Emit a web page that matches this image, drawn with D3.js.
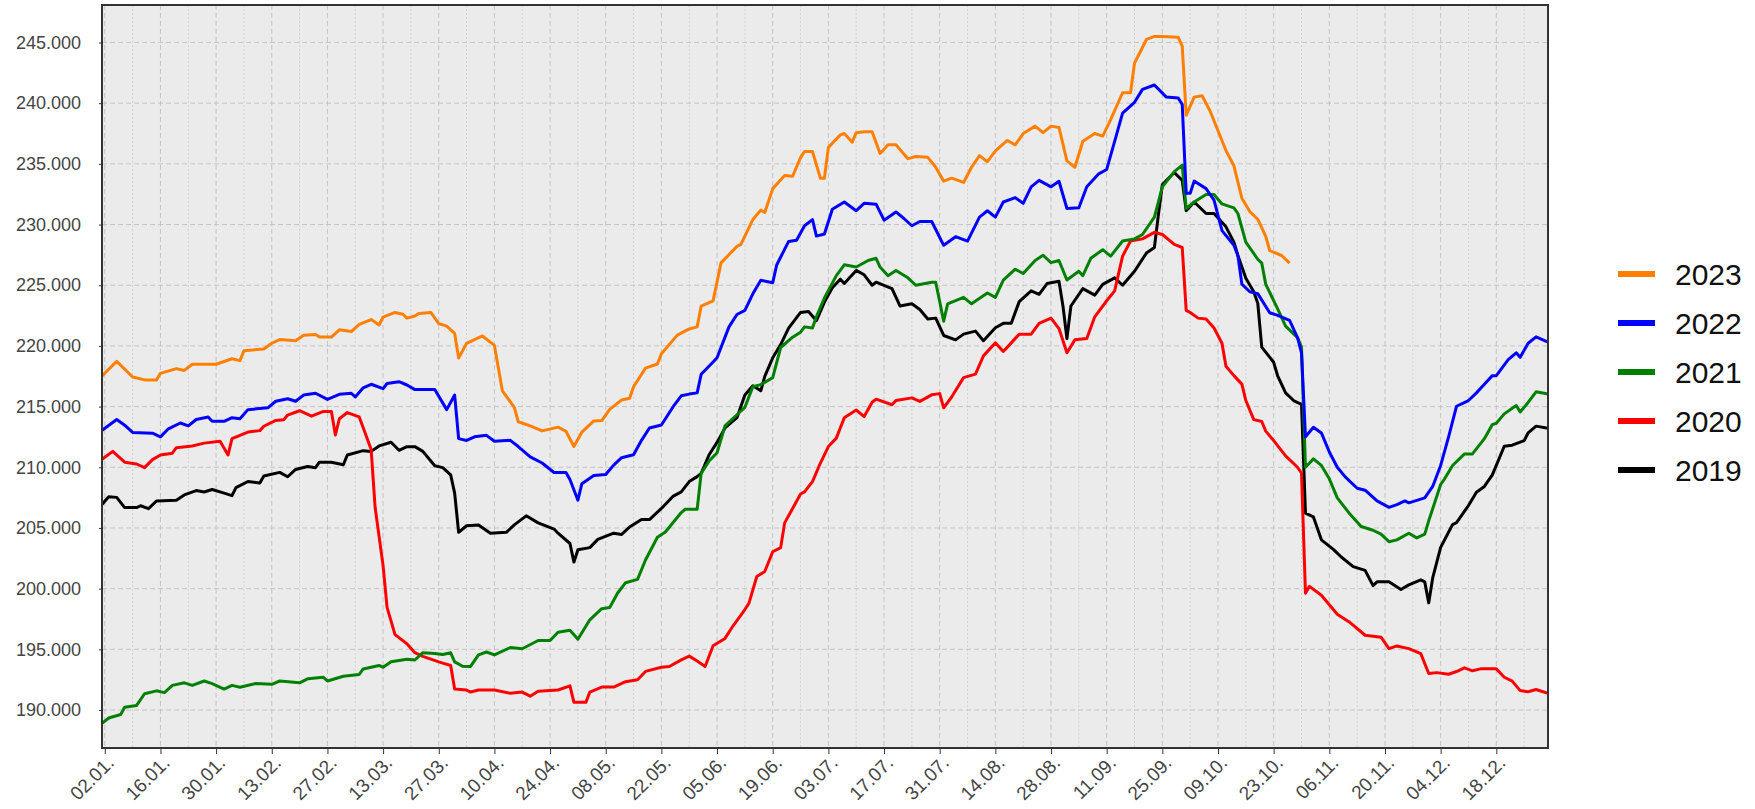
<!DOCTYPE html>
<html lang="de">
<head>
<meta charset="UTF-8">
<title>Jahresvergleich 2019 - 2023</title>
<script src="https://d3js.org/d3.v7.min.js"></script>
<style>
  html, body {margin: 0; background: #fff; overflow: hidden}
  svg text {font-family: Arial, "Liberation Sans", sans-serif;}
</style>
</head>
<body>
<svg id="chart" width="1755" height="809"></svg>
<script>
// x axis labels, one every 14 days
const tickLabels = ["02.01.", "16.01.", "30.01.", "13.02.", "27.02.", "13.03.", "27.03.", "10.04.", "24.04.",
  "08.05.", "22.05.", "05.06.", "19.06.", "03.07.", "17.07.", "31.07.", "14.08.", "28.08.", "11.09.",
  "25.09.", "09.10.", "23.10.", "06.11.", "20.11.", "04.12.", "18.12."];
const yTicks = [190000, 195000, 200000, 205000, 210000, 215000, 220000, 225000, 230000, 235000, 240000, 245000];
const years = ["2023", "2022", "2021", "2020", "2019"];
const colors = ["#ff8000", "#0000ff", "#008000", "#ff0000", "#000000"];

// [day of year (0 = 01.01.), value]
const s2023 = [[0,217440],[4,218730],[8,217440],[11,217200],[14,217200],[15,217740],[19,218130],[21,217980],[23,218490],[29,218490],
  [33,218940],[35,218790],[36,219600],[41,219750],[43,220220],[45,220520],[49,220430],[51,220880],[54,220940],[55,220730],
  [58,220730],[60,221330],[63,221180],[65,221780],[68,222170],[70,221720],[71,222380],[74,222760],[76,222610],[77,222290],
  [79,222460],[80,222670],[83,222760],[85,221840],[87,221630],[89,221030],[90,219000],[92,220210],[96,220820],[99,220040],
  [101,216300],[104,214940],[105,213750],[108,213410],[111,213000],[115,213310],[117,212970],[119,211710],[121,212900],[124,213820],
  [126,213850],[128,214770],[131,215550],[133,215690],[134,216640],[137,218170],[140,218510],[141,219360],[145,220890],[148,221400],
  [150,221570],[151,223270],[154,223710],[156,226840],[160,228200],[161,228370],[164,230410],[166,231190],[167,230990],[169,232960],
  [172,234050],[174,233980],[176,235510],[177,236020],[179,236020],[181,233810],[182,233810],[183,236360],[186,237390],[187,237500],
  [189,236790],[190,237570],[192,237640],[194,237640],[196,235860],[198,236570],[200,236570],[203,235430],[205,235610],[208,235540],
  [210,234720],[212,233570],[214,233820],[217,233470],[219,234720],[221,235680],[223,235180],[225,236070],[228,236930],[230,236570],
  [232,237500],[235,238110],[237,237570],[239,238110],[241,238000],[243,235250],[245,234720],[247,236860],[250,237500],[252,237290],
  [254,238640],[257,240860],[259,240860],[260,243290],[263,245250],[265,245500],[267,245500],[271,245430],[272,244710],[273,239000],
  [275,240500],[277,240610],[279,239360],[283,236100],[285,234840],[287,232170],[289,231070],[291,230440],[293,229020],[294,227860],
  [297,227450],[299,226820]];

const s2022 = [[0,212960],[4,213940],[6,213470],[8,212870],[13,212810],[15,212510],[17,213170],[20,213650],[22,213410],[24,213940],
  [27,214150],[28,213790],[31,213790],[33,214090],[35,214000],[37,214750],[42,214900],[44,215440],[47,215650],[49,215440],
  [51,215950],[54,216100],[57,215590],[60,216010],[63,216100],[64,215800],[66,216550],[68,216840],[71,216480],[72,216900],
  [75,217050],[77,216780],[79,216400],[84,216400],[87,214750],[89,215950],[90,212360],[92,212210],[94,212510],[97,212630],
  [99,212150],[103,212220],[105,211710],[108,210860],[111,210350],[114,209570],[117,209570],[118,208990],[120,207290],[121,208650],
  [124,209330],[127,209400],[129,210180],[131,210790],[134,211030],[136,212220],[138,213240],[141,213480],[144,215010],[146,215890],
  [148,216030],[150,216130],[151,217660],[154,218680],[155,219020],[158,221570],[160,222590],[162,222930],[164,224290],[166,225410],
  [169,225210],[170,226670],[173,228610],[175,228710],[177,229900],[179,230410],[180,229050],[182,229220],[184,231260],[187,231860],
  [190,231140],[192,231750],[195,231680],[197,230360],[200,231040],[202,230500],[204,229900],[206,230250],[209,230250],[212,228290],
  [215,229000],[218,228640],[221,230610],[223,231140],[225,230610],[227,231860],[230,232220],[232,231750],[234,233110],[236,233640],
  [239,233110],[241,233570],[243,231320],[246,231390],[248,233110],[251,234180],[253,234540],[255,236860],[257,239180],[260,240070],
  [262,241140],[265,241500],[268,240500],[271,240430],[272,239890],[273,232570],[274,232570],[275,233580],[278,232960],[280,232010],
  [282,229500],[285,228300],[286,227450],[287,225090],[289,224460],[291,224310],[294,222730],[296,222510],[299,222110],[301,220690],
  [302,219430],[303,212510],[305,213300],[307,212830],[309,211260],[311,210000],[313,209210],[316,208270],[318,208110],[321,207230],
  [324,206700],[326,206920],[328,207230],[329,207070],[333,207480],[335,208420],[337,210150],[339,212510],[341,215030],[344,215500],
  [346,216130],[348,216850],[350,217550],[351,217550],[354,218870],[356,219430],[357,219060],[359,220220],[361,220750],[364,220310]];

const s2021 = [[0,188830],[2,189340],[5,189630],[6,190230],[9,190380],[11,191340],[14,191580],[16,191430],[18,192030],[21,192240],
  [23,192030],[26,192390],[28,192180],[31,191730],[33,192030],[35,191880],[39,192180],[43,192120],[45,192390],[50,192240],
  [52,192570],[56,192690],[57,192390],[61,192780],[65,192930],[66,193380],[70,193670],[71,193520],[73,193970],[77,194180],
  [79,194120],[81,194720],[84,194660],[86,194570],[88,194720],[89,193970],[91,193610],[93,193590],[95,194540],[97,194780],
  [99,194540],[103,195150],[106,195050],[110,195730],[113,195730],[115,196410],[118,196580],[120,195830],[123,197430],[126,198350],
  [128,198450],[130,199640],[132,200490],[135,200760],[137,202360],[140,204230],[142,204670],[146,206270],[147,206540],[150,206540],
  [151,209500],[153,210520],[155,211200],[157,213410],[160,214330],[162,214940],[164,216640],[166,216810],[169,217390],[171,219870],
  [174,220720],[176,221130],[177,221570],[179,221470],[180,222420],[182,223950],[185,225790],[187,226680],[190,226500],[193,227040],
  [195,227220],[196,226500],[198,225790],[200,226220],[203,225610],[205,225000],[209,225250],[210,225250],[212,222040],[213,223470],
  [217,224000],[219,223470],[223,224360],[225,224000],[227,225430],[230,226320],[232,225970],[235,227040],[237,227470],[239,226860],
  [241,227040],[243,225430],[246,226150],[247,225790],[249,227220],[252,227930],[254,227400],[257,228640],[260,228820],[262,229180],
  [265,230610],[267,233110],[270,234360],[272,234890],[273,231320],[275,231860],[278,232480],[280,232480],[282,231700],[285,231380],
  [286,230910],[288,228550],[291,227140],[292,226820],[293,225090],[296,223050],[298,221630],[301,220690],[302,219900],[303,210000],
  [305,210690],[307,210150],[309,209050],[311,207480],[314,206220],[317,205120],[320,204810],[322,204490],[324,203870],[326,204020],
  [329,204560],[331,204180],[333,204490],[334,205590],[337,208580],[338,209050],[340,210150],[343,211100],[345,211100],[348,212360],
  [350,213520],[351,213630],[353,214400],[356,215090],[357,214560],[359,215340],[361,216220],[364,216030]];

const s2020 = [[0,210570],[3,211310],[6,210420],[9,210270],[11,209970],[13,210630],[15,211010],[18,211160],[19,211610],[23,211760],
  [26,211990],[30,212150],[32,211010],[33,212360],[37,212900],[40,213020],[41,213380],[44,213860],[46,213920],[47,214300],
  [50,214660],[53,214210],[56,214600],[58,214600],[59,212660],[60,214000],[62,214510],[65,214150],[66,213260],[68,211460],
  [69,206680],[71,201900],[72,198460],[74,196210],[77,195460],[79,194720],[81,194420],[85,193970],[88,193670],[89,191730],
  [92,191640],[93,191480],[95,191650],[99,191650],[103,191380],[106,191480],[108,191140],[110,191550],[115,191650],[118,191990],
  [119,190630],[122,190630],[123,191480],[126,191890],[129,191890],[132,192330],[135,192500],[137,193180],[141,193520],[143,193590],
  [146,194130],[148,194440],[150,194030],[152,193590],[154,195290],[157,195900],[159,196920],[162,198280],[163,198790],[165,201000],
  [167,201410],[169,203040],[171,203380],[172,205420],[174,206610],[176,207800],[177,207970],[179,208820],[181,210350],[183,211710],
  [185,212400],[187,214080],[190,214720],[192,214180],[194,215360],[195,215610],[199,215150],[200,215500],[204,215720],[206,215430],
  [209,215970],[211,216070],[212,214900],[214,215790],[217,217390],[220,217680],[222,219180],[225,220250],[227,219540],[229,220250],
  [231,220970],[234,220970],[236,221860],[239,222290],[241,221430],[243,219430],[245,220500],[248,220610],[250,222400],[253,223720],
  [255,224540],[257,227400],[259,228640],[262,228820],[265,229360],[267,229180],[270,228360],[272,228110],[273,222930],[274,222750],
  [276,222290],[278,222220],[280,221480],[282,220220],[283,218330],[285,217550],[287,216850],[288,215500],[290,213930],[292,213770],
  [293,212980],[295,212200],[298,210940],[301,210000],[302,209530],[303,199620],[304,200190],[307,199460],[309,198680],[311,197890],
  [314,197260],[318,196160],[322,196000],[324,195060],[326,195280],[329,195060],[332,194650],[334,193010],[336,193080],[339,192950],
  [341,193170],[343,193480],[345,193230],[347,193390],[351,193390],[353,192700],[355,192380],[357,191600],[359,191500],[361,191690],
  [364,191380]];

const s2019 = [[0,206830],[2,207580],[4,207520],[6,206680],[9,206680],[10,206830],[12,206590],[14,207220],[19,207280],[21,207720],
  [24,208080],[26,207960],[28,208170],[31,207870],[33,207660],[34,208320],[37,208830],[40,208710],[41,209280],[45,209580],
  [47,209220],[49,209820],[52,210060],[54,209970],[55,210420],[58,210420],[61,210210],[62,211010],[66,211370],[68,211310],
  [70,211760],[73,212060],[75,211400],[77,211700],[79,211700],[81,211310],[84,210120],[86,209970],[88,209370],[89,207870],
  [90,204640],[92,205180],[95,205250],[98,204570],[102,204640],[104,205250],[107,206000],[110,205420],[114,204910],[115,204570],
  [118,203720],[119,202190],[120,203210],[123,203380],[125,204060],[129,204570],[131,204470],[133,205080],[136,205690],[138,205690],
  [141,206610],[144,207630],[146,207970],[148,208820],[150,209230],[151,209500],[153,211030],[155,212050],[157,213240],[160,214090],
  [162,215960],[164,216710],[166,216300],[167,217490],[169,219020],[171,220110],[173,221470],[176,222760],[178,222830],[180,222080],
  [182,223610],[184,224800],[186,225500],[187,225140],[190,226220],[192,225860],[194,225000],[195,225250],[199,224720],[201,223290],
  [204,223470],[206,223000],[208,222220],[210,222290],[212,220860],[215,220500],[217,220970],[220,221220],[222,220430],[225,221500],
  [227,221860],[229,221860],[231,223650],[234,224540],[236,224250],[238,225140],[241,225320],[242,223290],[243,220610],[244,223290],
  [247,224720],[250,224180],[252,225070],[255,225610],[257,225000],[260,226150],[263,227650],[265,228110],[266,230790],[267,233290],
  [270,234290],[272,233640],[273,231140],[275,231860],[278,230910],[280,230910],[283,229810],[285,228550],[286,227450],[288,225570],
  [290,224460],[291,223520],[292,219900],[295,218650],[296,217540],[298,216130],[300,215500],[302,215190],[303,206220],[305,205910],
  [307,204020],[310,203240],[312,202610],[315,201820],[318,201510],[320,200250],[321,200560],[324,200560],[327,199930],[329,200310],
  [332,200720],[333,200560],[334,198830],[335,200880],[337,203400],[340,205280],[341,205440],[344,206850],[346,207950],[348,208420],
  [350,209370],[353,211730],[355,211820],[358,212200],[359,212830],[361,213390],[364,213210]];

const seriesData = [s2023, s2022, s2021, s2020, s2019];

const plotLeft = 102, plotRight = 1548, plotTop = 5, plotBottom = 748;
const svg = d3.select("#chart");

const parseDay = d3.timeParse("%d.%m.%Y");
const jan1 = new Date(2023, 0, 1);
const dayOf = lbl => d3.timeDay.count(jan1, parseDay(lbl + "2023"));
const tickDays = tickLabels.map(dayOf);

const x = d3.scaleLinear().domain([0.3, 364]).range([plotLeft, plotRight]);
const y = d3.scaleLinear().domain([186870, 248090]).range([plotBottom, plotTop]);

const de = d3.formatLocale({decimal: ",", thousands: ".", grouping: [3], currency: ["", " €"]});
const fmt = de.format(",");

svg.append("rect")
  .attr("x", plotLeft).attr("y", plotTop)
  .attr("width", plotRight - plotLeft).attr("height", plotBottom - plotTop)
  .attr("fill", "#ebebeb");

// grid: weekly dotted, two-weekly dashed
const grid = svg.append("g");
grid.selectAll(".minor")
  .data(tickDays.map(d => d + 7).filter(d => x(d) < plotRight))
  .join("line")
  .attr("x1", d => x(d)).attr("x2", d => x(d))
  .attr("y1", plotTop).attr("y2", plotBottom)
  .attr("stroke", "#d2d2d2").attr("stroke-width", 1)
  .attr("stroke-dasharray", "2,2");
grid.selectAll(".major")
  .data(tickDays)
  .join("line")
  .attr("x1", d => x(d)).attr("x2", d => x(d))
  .attr("y1", plotTop).attr("y2", plotBottom)
  .attr("stroke", "#c4c4c4").attr("stroke-width", 1)
  .attr("stroke-dasharray", "5,3");
grid.selectAll(".hline")
  .data(yTicks)
  .join("line")
  .attr("x1", plotLeft).attr("x2", plotRight)
  .attr("y1", d => y(d)).attr("y2", d => y(d))
  .attr("stroke", "#c4c4c4").attr("stroke-width", 1)
  .attr("stroke-dasharray", "5,3");

svg.append("clipPath").attr("id", "plotClip")
  .append("rect")
  .attr("x", plotLeft).attr("y", plotTop)
  .attr("width", plotRight - plotLeft).attr("height", plotBottom - plotTop);

const line = d3.line()
  .x(d => x(d[0]))
  .y(d => y(d[1]));

// draw oldest first so 2023 ends on top
svg.append("g").attr("clip-path", "url(#plotClip)")
  .selectAll("path")
  .data(seriesData.map((s, i) => ({s, i})).reverse())
  .join("path")
  .attr("d", d => line(d.s))
  .attr("fill", "none")
  .attr("stroke", d => colors[d.i])
  .attr("stroke-width", 3)
  .attr("stroke-linejoin", "round");

const yAxis = svg.append("g")
  .attr("transform", `translate(${plotLeft},0)`)
  .call(d3.axisLeft(y).tickValues(yTicks).tickFormat(fmt).tickSize(3).tickPadding(18));
yAxis.select(".domain").remove();
yAxis.selectAll("line").attr("stroke", "#333");
yAxis.selectAll("text")
  .attr("font-size", 18)
  .attr("fill", "#444");

const xAxis = svg.append("g")
  .attr("transform", `translate(0,${plotBottom})`)
  .call(d3.axisBottom(x).tickValues(tickDays).tickFormat((d, i) => tickLabels[i]).tickSize(6));
xAxis.select(".domain").remove();
xAxis.selectAll("line").attr("stroke", "#333");
xAxis.selectAll("text")
  .attr("font-size", 19)
  .attr("fill", "#444")
  .attr("text-anchor", "end")
  .attr("x", 0).attr("y", 0).attr("dy", 0)
  .attr("transform", "translate(10,16) rotate(-45)");

svg.append("rect")
  .attr("x", plotLeft).attr("y", plotTop)
  .attr("width", plotRight - plotLeft).attr("height", plotBottom - plotTop)
  .attr("fill", "none")
  .attr("stroke", "#333").attr("stroke-width", 2);

const legend = svg.append("g").attr("transform", "translate(1618,274)");
const item = legend.selectAll("g")
  .data(years)
  .join("g")
  .attr("transform", (d, i) => `translate(0,${i * 49})`);
item.append("line")
  .attr("x1", 0).attr("x2", 37)
  .attr("stroke", (d, i) => colors[i])
  .attr("stroke-width", 6);
item.append("text")
  .attr("x", 57).attr("dy", "0.35em")
  .attr("font-size", 30)
  .attr("fill", "#111")
  .text(d => d);
</script>
</body>
</html>
